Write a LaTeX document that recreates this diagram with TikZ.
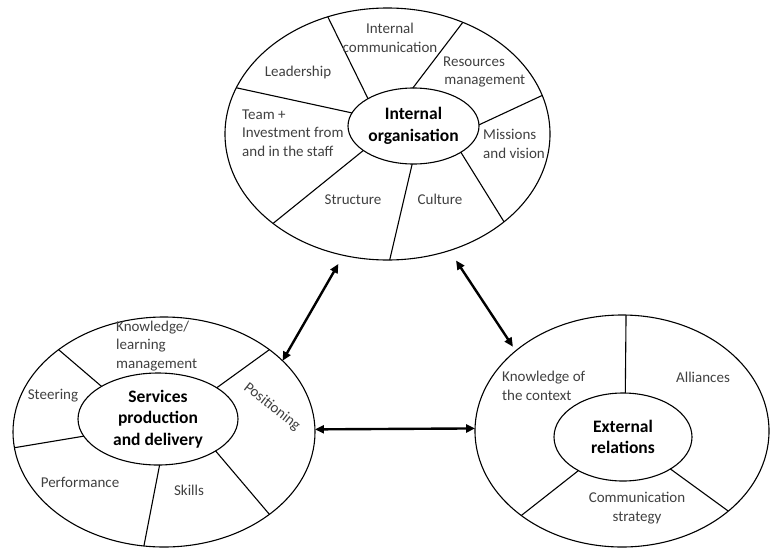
\documentclass[tikz,border=0pt]{standalone}
\usepackage{fontspec}
\setmainfont{Carlito}
\usetikzlibrary{shapes.geometric, arrows.meta}

\tikzset{
  ring/.style={draw, ellipse, line width=1.1pt, inner sep=0pt, outer sep=0pt},
  hub/.style={ring, font=\fontsize{17.5}{21.5}\selectfont\bfseries, align=center, text=black},
  slice/.style={font=\fontsize{15}{18.5}\selectfont, text=black!75, align=center, inner sep=0pt},
  spoke/.style={line width=1.1pt},
  link/.style={{Triangle[length=9pt,width=8pt]}-{Triangle[length=9pt,width=8pt]}, line width=2.4pt},
}

\begin{document}
\begin{tikzpicture}[x=1pt, y=-1pt]
    \useasboundingbox (0,0) rectangle (770,549);

    % Internal organisation
    \node[ring, minimum width=325pt, minimum height=252pt] (io) at (387.5,134) {};
    \node[hub, minimum width=131pt, minimum height=76pt] (ioc) at (413.5,126) {Internal\\organisation};
    \foreach \a/\b in {117/149, 56/91, 14/1, -37/-29, -89/-92, -142/-154, 163/168} {
        \draw[spoke] (io.\a) -- (ioc.\b);
    }
    \node[slice] (comm) at (390,38) {Internal\\communication};
    \node[slice] (lead) at (298,72) {Leadership};
    \node[slice, align=left, anchor=west] (res) at (443,72) {Resources\\\hspace{1.2pt}management};
    \node[slice, align=left, anchor=west] (team) at (242,133) {Team +\\Investment from\\and in the staff};
    \node[slice, align=left, anchor=west] (miss) at (483,144) {Missions\\and vision};
    \node[slice] (struct) at (353,200) {Structure};
    \node[slice] (cult) at (440,199) {Culture};

    % Services production and delivery
    \node[ring, minimum width=302pt, minimum height=230pt] (sp) at (164,432) {};
    \node[hub, minimum width=160pt, minimum height=92pt] (spc) at (158,419) {Services\\production\\and delivery};
    \foreach \a/\b in {142/150, 38/28, -174/-167, -100/-88, -38/-29} {
        \draw[spoke] (sp.\a) -- (spc.\b);
    }
    \node[slice, align=left, anchor=west] (know) at (116,346) {Knowledge/\\learning\\management};
    \node[slice] (steer) at (53,396) {Steering};
    \node[slice, rotate=-38] (pos) at (272,407) {Positioning};
    \node[slice] (perf) at (80,482) {Performance};
    \node[slice] (skill) at (189,490) {Skills};

    % External relations
    \node[ring, minimum width=294pt, minimum height=232pt] (er) at (622,431) {};
    \node[hub, minimum width=138pt, minimum height=88pt] (erc) at (623,437) {External\\relations};
    \foreach \a/\b in {88/87, -140/-143, -37/-34} {
        \draw[spoke] (er.\a) -- (erc.\b);
    }
    \node[slice, align=left, anchor=west] (ctx) at (502,386) {Knowledge of\\the context};
    \node[slice] (all) at (703,377) {Alliances};
    \node[slice] (cstr) at (637,508) {Communication\\strategy};

    % Links between the three areas
    \draw[link, shorten <=10pt] (io.-110) -- (sp.31);
    \draw[link, shorten <=12pt, shorten >=5pt] (io.-62) -- (er.143);
    \draw[link] (sp.1) -- (er.179);
\end{tikzpicture}
\end{document}
